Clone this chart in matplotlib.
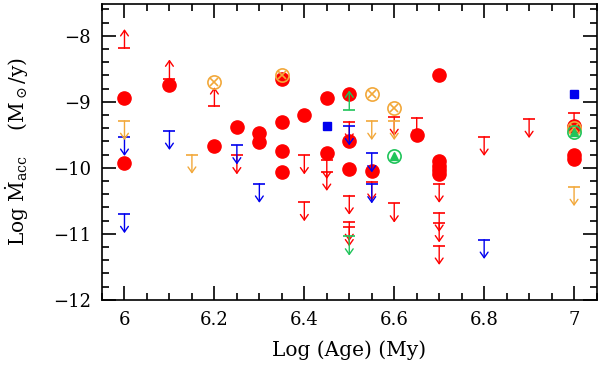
import matplotlib
matplotlib.use("Agg")
import matplotlib.pyplot as plt

# detections (filled red circles)
det_x = [6.0, 6.0, 6.1, 6.2, 6.25, 6.3, 6.3, 6.35, 6.35, 6.35, 6.35, 6.4, 6.45, 6.45,
         6.5, 6.5, 6.5, 6.55, 6.65, 6.7, 6.7, 6.7, 6.7, 6.7, 7.0, 7.0, 7.0]
det_y = [-8.95, -9.92, -8.75, -9.67, -9.38, -9.47, -9.61, -8.65, -9.31, -9.74, -10.07, -9.2, -8.95, -9.78,
         -8.89, -9.6, -10.02, -10.05, -9.5, -8.6, -9.9, -9.97, -10.04, -10.1, -9.37, -9.8, -9.86]

# red upper / lower limits
red_up_x = [6.25, 6.4, 6.4, 6.45, 6.45, 6.5, 6.5, 6.5, 6.5, 6.55, 6.6, 6.6, 6.65,
            6.7, 6.7, 6.7, 6.7, 6.8, 6.9, 7.0]
red_up_y = [-9.81, -9.81, -10.52, -9.88, -10.06, -9.30, -10.42, -10.82, -10.90, -10.21, -9.23, -10.54, -9.24,
            -10.24, -10.68, -10.84, -11.18, -9.53, -9.26, -9.17]
red_lo_x = [6.0, 6.1, 6.2]
red_lo_y = [-8.19, -8.65, -9.07]

blue_up_x = [6.0, 6.0, 6.1, 6.25, 6.3, 6.5, 6.55, 6.55, 6.8]
blue_up_y = [-9.53, -10.70, -9.44, -9.66, -10.24, -9.37, -9.78, -10.25, -11.09]

orange_up_x = [6.0, 6.15, 6.55, 6.6, 7.0]
orange_up_y = [-9.29, -9.80, -9.29, -9.29, -10.29]

green_up_x = [6.5]
green_up_y = [-11.04]
green_lo_x = [6.5]
green_lo_y = [-9.12]

# open symbols
ox_x = [6.2, 6.35, 6.55, 6.6, 7.0]
ox_y = [-8.70, -8.60, -8.89, -9.10, -9.40]
tri_x = [6.6, 7.0]
tri_y = [-9.82, -9.46]
sq_x = [6.45, 7.0]
sq_y = [-9.36, -8.89]

RED = '#ff0000'
BLUE = '#0000ee'
ORANGE = '#f2a83a'
GREEN = '#1fc45a'
ARROW = 0.29

plt.rcParams['font.family'] = ['DejaVu Serif']
plt.rcParams['mathtext.fontset'] = 'dejavuserif'


def draw_limits(ax, xs, ys, color, up=False):
    sign = 1 if up else -1
    ax.plot(xs, ys, ls='none', marker='_', ms=9, mew=1.2, color=color, zorder=4)
    for x, y in zip(xs, ys):
        ax.annotate('', xy=(x, y + sign * ARROW), xytext=(x, y), xycoords='data',
                    arrowprops=dict(arrowstyle='->,head_length=0.4,head_width=0.28',
                                    color=color, lw=1.0, shrinkA=0, shrinkB=0),
                    zorder=4)


fig = plt.figure(figsize=(6, 3.67), dpi=100)
ax = fig.add_axes([0.17, 0.183, 0.825, 0.806])

ax.plot(det_x, det_y, ls='none', marker='o', ms=9.5, color=RED, mec=RED, zorder=3)
ax.plot(sq_x, sq_y, ls='none', marker='s', ms=6, color=BLUE, zorder=3)

draw_limits(ax, red_up_x, red_up_y, RED)
draw_limits(ax, red_lo_x, red_lo_y, RED, up=True)
draw_limits(ax, blue_up_x, blue_up_y, BLUE)
draw_limits(ax, orange_up_x, orange_up_y, ORANGE)
draw_limits(ax, green_up_x, green_up_y, GREEN)
draw_limits(ax, green_lo_x, green_lo_y, GREEN, up=True)

ax.plot(ox_x, ox_y, ls='none', marker='o', ms=9.5, mfc='none', mec=ORANGE, mew=1.2, zorder=5)
ax.plot(ox_x, ox_y, ls='none', marker='x', ms=6, mec=ORANGE, mew=1.2, zorder=5)
ax.plot(tri_x, tri_y, ls='none', marker='o', ms=9.5, mfc='none', mec=GREEN, mew=1.2, zorder=5)
ax.plot(tri_x, tri_y, ls='none', marker='^', ms=5.5, color=GREEN, zorder=5)

ax.set_xlim(5.951, 7.051)
ax.set_ylim(-12, -7.52)
ax.set_xticks([6, 6.2, 6.4, 6.6, 6.8, 7])
ax.set_xticklabels(['6', '6.2', '6.4', '6.6', '6.8', '7'])
ax.set_xticks([6 + 0.05 * i - 0.05 for i in range(23)], minor=True)
ax.set_yticks([-12, -11, -10, -9, -8])
ax.set_yticks([-12 + 0.2 * i for i in range(23)], minor=True)

ax.tick_params(which='both', direction='in', top=True, right=True, width=1.2, labelsize=13, pad=8)
ax.tick_params(which='major', length=10)
ax.tick_params(which='minor', length=5)
for s in ax.spines.values():
    s.set_linewidth(1.2)

ax.set_xlabel('Log (Age) (My)', fontsize=14.5, labelpad=8)
ax.set_ylabel(r'Log $\dot{\rm M}_{\rm acc}$    (M$_\odot$/y)', fontsize=14.5, labelpad=16)

fig.savefig('out.png', dpi=100)
